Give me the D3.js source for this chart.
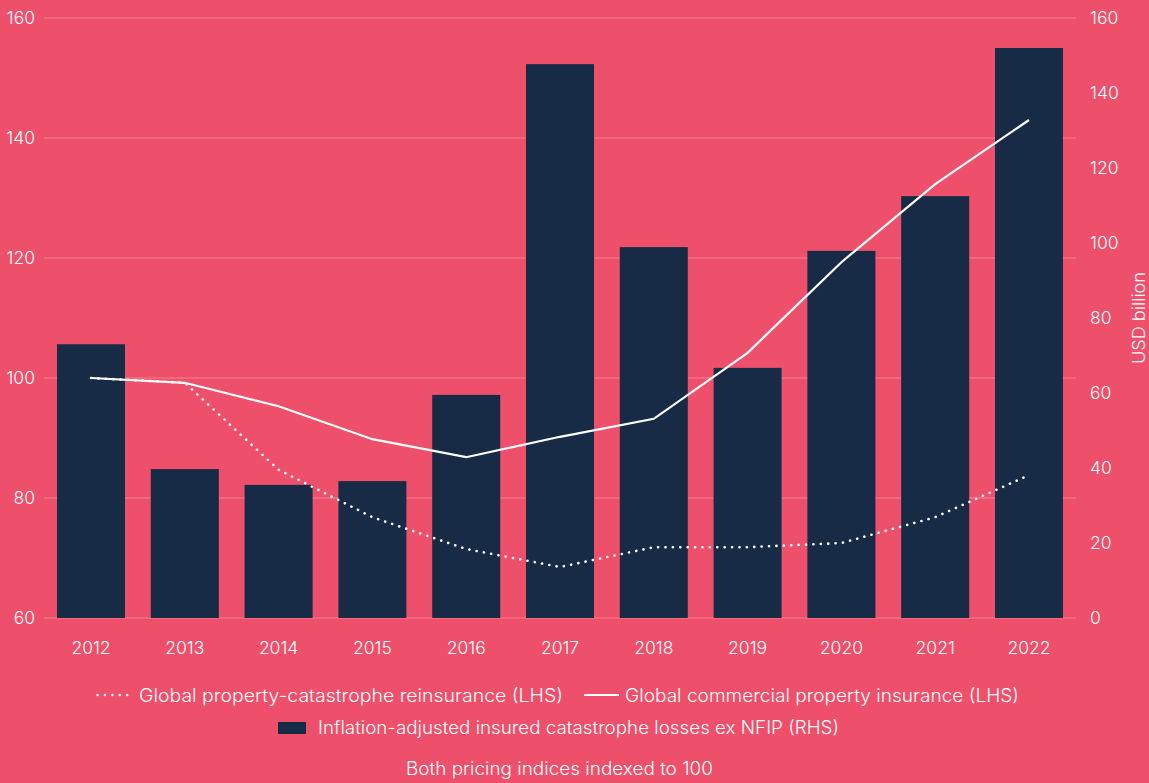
<!DOCTYPE html>
<html>
<head>
<meta charset="utf-8">
<script src="https://cdn.jsdelivr.net/npm/d3@7"></script>
<style>
  body { margin: 0; background: #ee4f6a; }
  text { font-family: Inter, "Open Sans", sans-serif; fill: #fff; }
</style>
</head>
<body>
<div id="chart"></div>
<script>
var width = 1149, height = 783;

// data
var years = ['2012','2013','2014','2015','2016','2017','2018','2019','2020','2021','2022'];
var losses = [73, 39.7, 35.5, 36.5, 59.5, 147.7, 98.9, 66.7, 97.9, 112.5, 152];   // RHS, USD billion
var commercial = [100, 99.2, 95.3, 89.8, 86.8, 90.2, 93.2, 104.2, 119.3, 132.3, 143]; // LHS
var reinsurance = [100, 99.2, 84.7, 76.8, 71.5, 68.5, 71.8, 71.8, 72.5, 76.8, 83.8];  // LHS
var leftTicks = [60, 80, 100, 120, 140, 160];
var rightTicks = [0, 20, 40, 60, 80, 100, 120, 140, 160];

var bg = '#ee4f6a', grid = '#f37185', barColor = '#172b46';
var dots = '0.1 7.3';

var svg = d3.select('#chart').append('svg')
  .attr('width', width).attr('height', height);

svg.append('rect').attr('width', width).attr('height', height).attr('fill', bg);

var x = d3.scaleBand().domain(years).range([57, 1063]).paddingInner(0.275).paddingOuter(0);
var yL = d3.scaleLinear().domain([60, 160]).range([618, 18]);
var yR = d3.scaleLinear().domain([0, 160]).range([618, 18]);

// gridlines from left axis
svg.append('g').selectAll('line')
  .data(leftTicks).enter().append('line')
  .attr('x1', 44).attr('x2', 1076)
  .attr('y1', function(d) { return yL(d) }).attr('y2', function(d) { return yL(d) })
  .attr('stroke', grid).attr('stroke-width', 1.5);

// bars
svg.append('g').selectAll('rect')
  .data(losses).enter().append('rect')
  .attr('x', function(d, i) { return x(years[i]) })
  .attr('width', x.bandwidth())
  .attr('y', function(d) { return yR(d) })
  .attr('height', function(d) { return yR(0) - yR(d) })
  .attr('fill', barColor);

var line = d3.line()
  .x(function(d, i) { return x(years[i]) + x.bandwidth() / 2 })
  .y(function(d) { return yL(d) });

svg.append('path').datum(reinsurance)
  .attr('d', line).attr('fill', 'none')
  .attr('stroke', '#fff').attr('stroke-width', 2.6)
  .attr('stroke-dasharray', dots).attr('stroke-linecap', 'round');

svg.append('path').datum(commercial)
  .attr('d', line).attr('fill', 'none')
  .attr('stroke', '#fff').attr('stroke-width', 2.2);

// axes (text only)
var axisLeft = d3.axisLeft(yL).tickValues(leftTicks).tickSize(0).tickPadding(0);
var gL = svg.append('g').attr('transform', 'translate(35,0)').call(axisLeft);
var axisRight = d3.axisRight(yR).tickValues(rightTicks).tickSize(0).tickPadding(0);
var gR = svg.append('g').attr('transform', 'translate(1090,0)').call(axisRight);
var axisBottom = d3.axisBottom(x).tickSize(0).tickPadding(0);
var gB = svg.append('g').attr('transform', 'translate(0,640)').call(axisBottom);

[gL, gR, gB].forEach(function(g) {
  g.select('.domain').remove();
  g.selectAll('text').style('font-size', '17.5px').style('font-weight', 300)
    .attr('fill', '#fff').style('font-family', 'Inter, sans-serif');
});
gB.selectAll('text').attr('dy', '0.8em');

svg.append('text')
  .attr('transform', 'translate(1145,318) rotate(-90)')
  .attr('text-anchor', 'middle')
  .style('font-size', '17px').style('font-weight', 300)
  .attr('textLength', 92).attr('lengthAdjust', 'spacingAndGlyphs')
  .text('USD billion');

// legend
var lg = svg.append('g').style('font-size', '18px').style('font-weight', 300);
lg.append('line').attr('x1', 97.5).attr('x2', 130).attr('y1', 695).attr('y2', 695)
  .attr('stroke', '#fff').attr('stroke-width', 2.4).attr('stroke-dasharray', dots).attr('stroke-linecap', 'round');
lg.append('text').attr('x', 139).attr('y', 702)
  .attr('textLength', 424).attr('lengthAdjust', 'spacingAndGlyphs')
  .text('Global property-catastrophe reinsurance (LHS)');
lg.append('line').attr('x1', 584).attr('x2', 619).attr('y1', 695).attr('y2', 695)
  .attr('stroke', '#fff').attr('stroke-width', 2.2);
lg.append('text').attr('x', 625).attr('y', 702)
  .attr('textLength', 394).attr('lengthAdjust', 'spacingAndGlyphs')
  .text('Global commercial property insurance (LHS)');
lg.append('rect').attr('x', 278).attr('y', 722).attr('width', 28).attr('height', 12).attr('fill', barColor);
lg.append('text').attr('x', 318).attr('y', 734)
  .attr('textLength', 521).attr('lengthAdjust', 'spacingAndGlyphs')
  .text('Inflation-adjusted insured catastrophe losses ex NFIP (RHS)');

svg.append('text').attr('x', 406).attr('y', 775)
  .style('font-size', '18px').style('font-weight', 300)
  .attr('textLength', 307).attr('lengthAdjust', 'spacingAndGlyphs')
  .text('Both pricing indices indexed to 100');
</script>
</body>
</html>
